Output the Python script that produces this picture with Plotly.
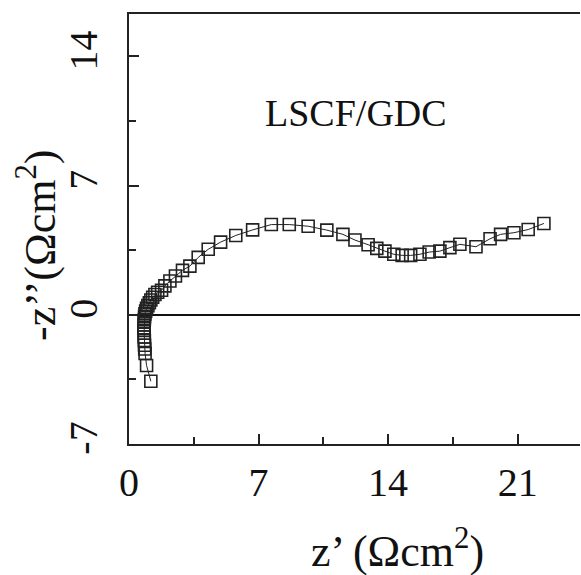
import plotly.graph_objects as go

# Nyquist data: Z' (real) and -Z'' (imag), Ohm cm^2
z_real = [1.18, 0.95, 0.87, 0.85, 0.84, 0.83, 0.82, 0.82, 0.82, 0.82,
          0.82, 0.82, 0.83, 0.84, 0.86, 0.90, 0.95, 1.02, 1.10, 1.18,
          1.28, 1.40, 1.55, 1.76, 1.94, 2.21, 2.51, 2.89, 3.29, 3.74,
          4.28, 4.95, 5.77, 6.68, 7.69, 8.66, 9.68, 10.69, 11.56, 12.21,
          12.92, 13.39, 13.83, 14.31, 14.76, 15.22, 15.72, 16.22, 16.80, 17.34,
          17.88, 18.75, 19.51, 20.08, 20.80, 21.57, 22.42]
z_imag = [-3.60, -2.75, -2.10, -1.85, -1.65, -1.40, -1.20, -1.00, -0.85, -0.70,
          -0.55, -0.40, -0.25, -0.10, 0.05, 0.20, 0.35, 0.50, 0.65, 0.80,
          0.95, 1.10, 1.22, 1.33, 1.57, 1.83, 2.10, 2.41, 2.64, 3.11,
          3.55, 3.94, 4.30, 4.60, 4.89, 4.89, 4.80, 4.59, 4.36, 4.05,
          3.80, 3.60, 3.45, 3.28, 3.22, 3.22, 3.28, 3.40, 3.45, 3.64,
          3.82, 3.69, 4.12, 4.36, 4.45, 4.62, 4.95]

x_ticks = [0, 7, 14, 21]
x_ticktext = ["0", "7", "14", "21"]
y_ticks = [-7, 0, 7, 14]
y_ticktext = ["-7", "0", "7", "14"]
x_range = [0, 24.37]
y_range = [-7, 16.3]

sample_label = "LSCF/GDC"
x_title = "z\u2019 (\u03a9cm<sup>2</sup>)"
y_title = "-z\u2019\u2019(\u03a9cm<sup>2</sup>)"

FONT = "Liberation Serif, Times New Roman, serif"
INK = "#222222"

fig = go.Figure()
fig.add_trace(go.Scatter(
    x=z_real, y=z_imag, mode="lines+markers",
    line=dict(color=INK, width=1),
    marker=dict(symbol="square-open", size=12, color=INK, line=dict(width=1.6, color=INK)),
    showlegend=False,
))

axis_common = dict(
    showgrid=False, showline=True, linecolor=INK, linewidth=2,
    ticks="inside", ticklen=10, tickwidth=1.5, tickcolor=INK,
    tickfont=dict(family=FONT, size=40, color="#111111"),
)

fig.update_xaxes(
    range=x_range, tickvals=x_ticks, ticktext=x_ticktext, zeroline=False, mirror=True,
    minor=dict(ticks="inside", ticklen=7, tickwidth=1.5, tickcolor=INK, dtick=3.5, tick0=0),
    ticklabelstandoff=2,
    **axis_common,
)
fig.update_yaxes(
    range=y_range, tickvals=y_ticks, ticktext=y_ticktext, tickangle=-90,
    zeroline=True, zerolinecolor="#111111", zerolinewidth=1.5,
    minor=dict(ticks="inside", ticklen=7, tickwidth=1.5, tickcolor=INK, dtick=3.5, tick0=0),
    ticklabelstandoff=14,
    **axis_common,
)

fig.add_annotation(text=sample_label, xref="paper", yref="paper", x=0.297, y=0.77,
                   xanchor="left", yanchor="middle", showarrow=False,
                   font=dict(family=FONT, size=38, color="#111111"))
fig.add_annotation(text=x_title, xref="paper", yref="paper", x=0.596, y=-0.244,
                   xanchor="center", yanchor="middle", showarrow=False,
                   font=dict(family=FONT, size=44, color="#111111"))
fig.add_annotation(text=y_title, xref="paper", yref="paper", x=-0.204, y=0.463,
                   xanchor="center", yanchor="middle", showarrow=False, textangle=-90,
                   font=dict(family=FONT, size=44, color="#111111"))

fig.update_layout(
    width=581, height=575,
    margin=dict(l=129, r=1, t=14, b=131),
    plot_bgcolor="white", paper_bgcolor="white",
)

fig.write_html("out.html")
